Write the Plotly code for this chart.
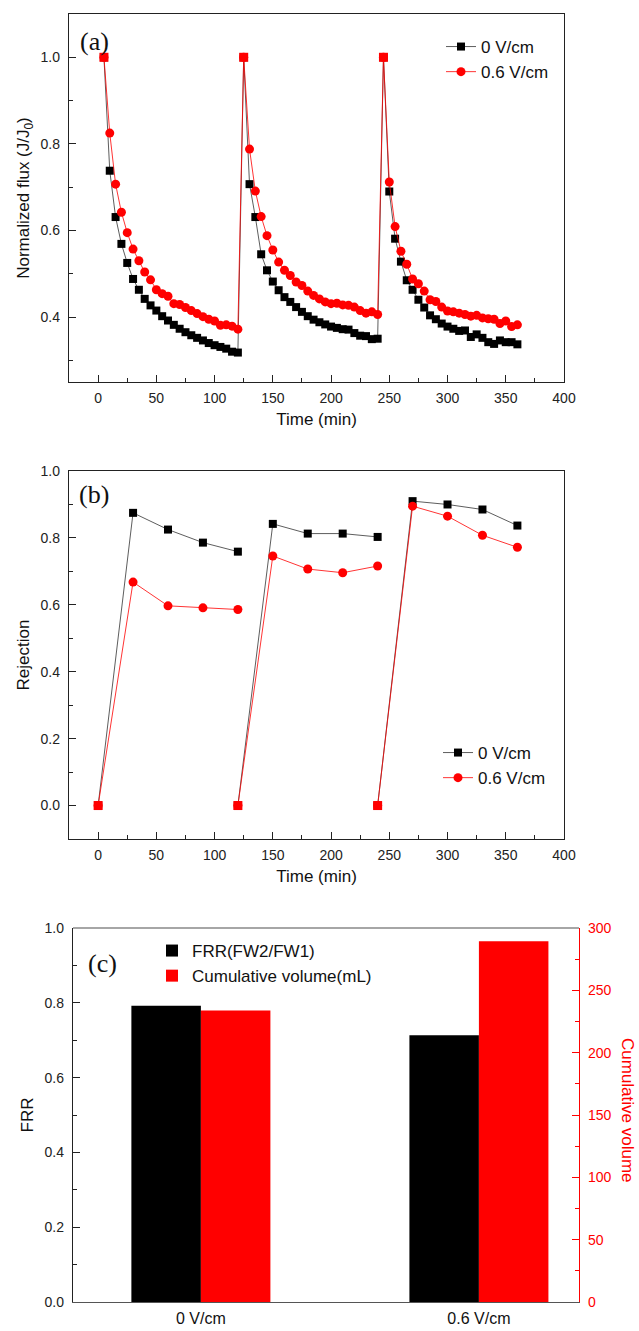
import plotly.graph_objects as go

# ---------------- data ----------------
time_flux = [5, 10, 15, 20, 25, 30, 35, 40, 45, 50, 55, 60, 65, 70, 75, 80, 85, 90, 95, 100, 105, 110, 115, 120,
             125, 130, 135, 140, 145, 150, 155, 160, 165, 170, 175, 180, 185, 190, 195, 200, 205, 210, 215, 220, 225, 230, 235, 240,
             245, 250, 255, 260, 265, 270, 275, 280, 285, 290, 295, 300, 305, 310, 315, 320, 325, 330, 335, 340, 345, 350, 355, 360]
flux_0vcm = [1.0, 0.738, 0.631, 0.569, 0.525, 0.488, 0.463, 0.442, 0.427, 0.415, 0.402, 0.392, 0.382, 0.373, 0.365, 0.358, 0.352, 0.346, 0.340, 0.335, 0.331, 0.327, 0.320, 0.318,
             1.0, 0.707, 0.631, 0.545, 0.508, 0.482, 0.462, 0.446, 0.435, 0.423, 0.412, 0.402, 0.394, 0.388, 0.383, 0.378, 0.375, 0.372, 0.371, 0.363, 0.357, 0.356, 0.349, 0.350,
             1.0, 0.690, 0.581, 0.528, 0.485, 0.463, 0.440, 0.422, 0.404, 0.395, 0.385, 0.378, 0.373, 0.368, 0.369, 0.354, 0.360, 0.352, 0.342, 0.338, 0.346, 0.342, 0.342, 0.337]
flux_06vcm = [1.0, 0.825, 0.707, 0.642, 0.595, 0.557, 0.530, 0.504, 0.486, 0.463, 0.454, 0.448, 0.431, 0.429, 0.422, 0.415, 0.408, 0.401, 0.395, 0.391, 0.381, 0.382, 0.379, 0.372,
              1.0, 0.788, 0.691, 0.632, 0.588, 0.555, 0.527, 0.508, 0.496, 0.481, 0.473, 0.460, 0.450, 0.442, 0.435, 0.431, 0.432, 0.428, 0.427, 0.423, 0.415, 0.409, 0.412, 0.406,
              1.0, 0.712, 0.609, 0.552, 0.522, 0.488, 0.477, 0.460, 0.440, 0.436, 0.423, 0.414, 0.412, 0.409, 0.406, 0.402, 0.404, 0.398, 0.396, 0.395, 0.385, 0.391, 0.378, 0.382]

time_rej = [0, 30, 60, 90, 120, None, 120, 150, 180, 210, 240, None, 240, 270, 300, 330, 360]
rej_0vcm = [0.0, 0.875, 0.825, 0.786, 0.759, None, 0.0, 0.842, 0.813, 0.813, 0.803, None, 0.0, 0.910, 0.900, 0.885, 0.837]
rej_06vcm = [0.0, 0.668, 0.597, 0.591, 0.586, None, 0.0, 0.746, 0.707, 0.696, 0.716, None, 0.0, 0.895, 0.865, 0.808, 0.772]

bar_categories = ["0 V/cm", "0.6 V/cm"]
frr = [0.792, 0.713]
cum_volume = [233.8, 289.4]

series_names = ["0 V/cm", "0.6 V/cm"]

# ---------------- layout helpers ----------------
W, H = 639, 1331
def xd(a, b):
    return [a / W, b / W]
def yd(top, bottom):
    return [1 - bottom / H, 1 - top / H]

FONT = "Arial, Liberation Sans, sans-serif"
SERIF = "Times New Roman, Liberation Serif, serif"
BLACK = "#000000"
RED = "#ff0000"

fig = go.Figure()

# ---- panel (a) ----
fig.add_trace(go.Scatter(x=time_flux, y=flux_0vcm, mode="lines+markers", name=series_names[0],
                         line=dict(color="#333333", width=0.8),
                         marker=dict(symbol="square", size=8, color=BLACK),
                         xaxis="x", yaxis="y", legend="legend"))
fig.add_trace(go.Scatter(x=time_flux, y=flux_06vcm, mode="lines+markers", name=series_names[1],
                         line=dict(color=RED, width=0.8),
                         marker=dict(symbol="circle", size=9, color=RED),
                         xaxis="x", yaxis="y", legend="legend"))
# coincident start-of-cycle points (both series = 1.0) drawn as red squares
start_a = [(t, v) for t, v in zip(time_flux, flux_06vcm) if v == 1.0]
fig.add_trace(go.Scatter(x=[p[0] for p in start_a], y=[p[1] for p in start_a], mode="markers",
                         marker=dict(symbol="square", size=9, color=RED), showlegend=False,
                         xaxis="x", yaxis="y", hoverinfo="skip"))

# ---- panel (b) ----
fig.add_trace(go.Scatter(x=time_rej, y=rej_0vcm, mode="lines+markers", name=series_names[0],
                         line=dict(color="#333333", width=0.8), connectgaps=False,
                         marker=dict(symbol="square", size=8, color=BLACK),
                         xaxis="x2", yaxis="y2", legend="legend2"))
fig.add_trace(go.Scatter(x=time_rej, y=rej_06vcm, mode="lines+markers", name=series_names[1],
                         line=dict(color=RED, width=0.8), connectgaps=False,
                         marker=dict(symbol="circle", size=9, color=RED),
                         xaxis="x2", yaxis="y2", legend="legend2"))
start_b = [(t, v) for t, v in zip(time_rej, rej_06vcm) if v == 0.0]
fig.add_trace(go.Scatter(x=[p[0] for p in start_b], y=[p[1] for p in start_b], mode="markers",
                         marker=dict(symbol="square", size=9, color=RED), showlegend=False,
                         xaxis="x2", yaxis="y2", hoverinfo="skip"))

# ---- panel (c) ----
cat_pos = list(range(len(bar_categories)))
fig.add_trace(go.Bar(x=cat_pos, y=frr, name="FRR(FW2/FW1)", marker=dict(color=BLACK, line=dict(width=0)),
                     offset=-0.25, width=0.25, xaxis="x3", yaxis="y3", legend="legend3"))
fig.add_trace(go.Bar(x=cat_pos, y=cum_volume, name="Cumulative volume(mL)", marker=dict(color=RED, line=dict(width=0)),
                     offset=0.0, width=0.25, xaxis="x3", yaxis="y4", legend="legend3"))

tickfont = dict(family=FONT, size=14, color="#222222")
titlefont = dict(family=FONT, size=17, color="#111111")

def time_axis(domain, anchor):
    return dict(domain=domain, anchor=anchor, range=[-25, 400.01], dtick=50, tick0=0,
                ticks="inside", ticklen=7, tickwidth=1.2, tickcolor="#222222",
                minor=dict(ticks="inside", ticklen=4, dtick=25, tick0=0, tickcolor="#222222", tickwidth=1.2),
                showline=True, linecolor="#222222", linewidth=1.3, mirror=True, automargin=False,
                showgrid=False, zeroline=False, tickfont=tickfont, ticklabelstandoff=3,
                title=dict(text="Time (min)", font=titlefont, standoff=8))

def val_axis(domain, anchor, rng, title):
    return dict(domain=domain, anchor=anchor, range=rng, dtick=0.2, tick0=0, tickformat=".1f",
                ticks="inside", ticklen=7, tickwidth=1.2, tickcolor="#222222",
                minor=dict(ticks="inside", ticklen=4, dtick=0.1, tick0=0, tickcolor="#222222", tickwidth=1.2),
                showline=True, linecolor="#222222", linewidth=1.3, mirror=True, automargin=False,
                showgrid=False, zeroline=False, tickfont=tickfont, ticklabelstandoff=5,
                title=dict(text=title, font=titlefont, standoff=6))

dom_a_x = xd(69, 564)
dom_a_y = yd(14, 382)
dom_b_x = xd(69, 564)
dom_b_y = yd(471, 839)
dom_c_x = xd(73, 579)
dom_c_y = yd(928, 1302)

legend_common = dict(bgcolor="rgba(0,0,0,0)", borderwidth=0, font=dict(family=FONT, size=17, color="#111111"),
                     xanchor="left", yanchor="top", tracegroupgap=0)

fig.update_layout(
    width=W, height=H, autosize=False,
    margin=dict(l=0, r=0, t=0, b=0, autoexpand=False),
    paper_bgcolor="white", plot_bgcolor="white",
    showlegend=True, barmode="overlay",
    xaxis=time_axis(dom_a_x, "y"),
    yaxis=val_axis(dom_a_y, "x", [0.25, 1.1], "Normalized flux (J/J<sub>0</sub>)"),
    xaxis2=time_axis(dom_b_x, "y2"),
    yaxis2=val_axis(dom_b_y, "x2", [-0.1, 1.0001], "Rejection"),
    xaxis3=dict(domain=dom_c_x, anchor="y3", range=[-0.46, 1.36], tickmode="array",
                tickvals=cat_pos, ticktext=bar_categories, ticks="", showline=True, automargin=False,
                linecolor="#555555", linewidth=1.3, mirror=False, showgrid=False, zeroline=False,
                tickfont=dict(family=FONT, size=16, color="#111111"), ticklabelstandoff=2),
    yaxis3=val_axis(dom_c_y, "x3", [0, 1.0001], "FRR"),
    yaxis4=dict(overlaying="y3", anchor="x3", side="right", range=[0, 300.01], dtick=50, tick0=0,
                ticks="inside", ticklen=7, tickwidth=1.2, tickcolor=RED, automargin=False,
                minor=dict(ticks="inside", ticklen=4, dtick=25, tick0=0, tickcolor=RED, tickwidth=1.2),
                showline=True, linecolor=RED, linewidth=1.3, showgrid=False, zeroline=False,
                tickfont=dict(family=FONT, size=14, color=RED), ticklabelstandoff=5),
    legend=dict(legend_common, x=441 / W, y=1 - 29 / H),
    legend2=dict(legend_common, x=438 / W, y=1 - 735 / H),
    legend3=dict(legend_common, x=152 / W, y=1 - 933 / H),
)
fig.layout.yaxis3.mirror = False

# top border of panel (c)
fig.add_shape(type="line", xref="x3 domain", yref="y3 domain", x0=0, x1=1, y0=1, y1=1,
              line=dict(color="#888888", width=1.3))

# panel labels
for txt, xr, yr, xv, yv in [("(a)", "x domain", "y domain", 0.0525, 0.924),
                            ("(b)", "x2 domain", "y2 domain", 0.0505, 0.935),
                            ("(c)", "x3 domain", "y3 domain", 0.059, 0.904)]:
    fig.add_annotation(text=txt, xref=xr, yref=yr, x=xv, y=yv, showarrow=False,
                       xanchor="center", yanchor="middle",
                       font=dict(family=SERIF, size=26, color="#111111"))

# right axis title (reads top-to-bottom)
fig.add_annotation(text="Cumulative volume", xref="paper", yref="paper", x=628 / W, y=1 - 1110 / H,
                   showarrow=False, textangle=90, xanchor="center", yanchor="middle",
                   font=dict(family=FONT, size=17, color=RED))

fig.write_html("out.html", config={"displayModeBar": False},
               post_script="document.body.style.margin='0px';document.body.style.overflow='hidden';")
